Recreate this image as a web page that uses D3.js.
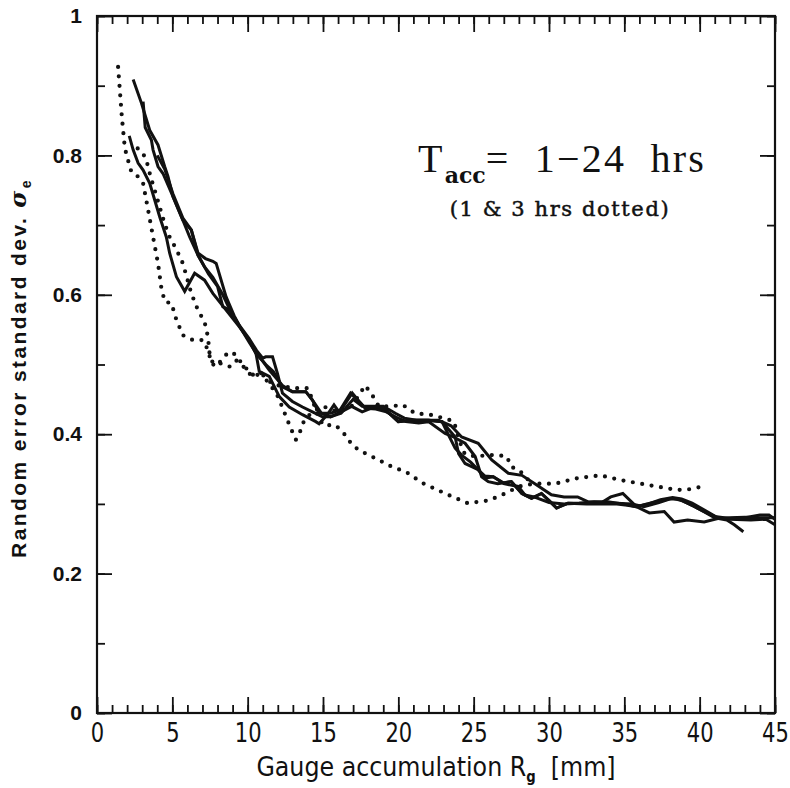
<!DOCTYPE html>
<html>
<head>
<meta charset="utf-8">
<script src="https://cdn.jsdelivr.net/npm/d3@7"></script>
<style>
  body { margin: 0; background: #fff; }
  svg text { fill: #111; }
</style>
</head>
<body>
<div id="viz"></div>
<script>
// chart size and plot box
var width = 790, height = 788;
var margin = {top: 16, right: 12, bottom: 75, left: 97};

// x ticks (mm) and y ticks (sigma)
var xMajor = [0, 5, 10, 15, 20, 25, 30, 35, 40, 45];
var yMajor = [0, 0.2, 0.4, 0.6, 0.8, 1];
var yLabels = ["0", "0.2", "0.4", "0.6", "0.8", "1"];

// solid curves (longer accumulation times)
var solidA = [[2.4,0.909],[2.95,0.875],[3.5,0.836],[4.05,0.815],[4.49,0.784],[4.71,0.77],[5.04,0.741],[5.7,0.707],[6.26,0.693],[6.7,0.66],[7.2,0.652],[7.69,0.648],[7.91,0.645],[8.57,0.597],[9.1,0.57],[9.6,0.55],[10.1,0.532],[10.6,0.515],[11.2,0.5],[11.7,0.49],[12.3,0.468],[12.97,0.461],[13.86,0.461],[14.3,0.449],[14.9,0.43],[15.5,0.425],[16.2,0.432],[16.9,0.44],[17.6,0.432],[18.5,0.44],[19.15,0.435],[20.0,0.418],[20.9,0.42],[22.0,0.42],[22.9,0.418],[23.77,0.396],[24.0,0.372],[24.43,0.358],[25.3,0.349],[25.75,0.337],[26.3,0.339],[27.0,0.329],[27.96,0.325],[28.4,0.313],[29.0,0.31],[30.0,0.302],[31.0,0.3],[32.0,0.301],[33.0,0.303],[33.9,0.303],[34.9,0.3],[35.8,0.296],[36.5,0.3],[37.5,0.305],[38.2,0.308],[38.8,0.305],[39.5,0.298],[40.2,0.29],[41.0,0.28],[41.8,0.277],[42.3,0.27],[42.9,0.26]];
var solidB = [[2.14,0.828],[2.4,0.808],[2.73,0.789],[3.06,0.779],[3.5,0.76],[3.83,0.736],[4.16,0.712],[4.6,0.683],[4.82,0.66],[5.27,0.626],[5.82,0.605],[6.48,0.631],[7.14,0.621],[7.69,0.602],[8.57,0.578],[9.45,0.554],[10.1,0.535],[10.55,0.516],[10.77,0.49],[11.43,0.483],[12.1,0.454],[12.76,0.439],[13.64,0.428],[14.52,0.418],[14.74,0.415],[15.29,0.428],[15.73,0.442],[16.06,0.432],[16.83,0.459],[17.4,0.447],[17.82,0.437],[18.5,0.436],[19.2,0.432],[19.8,0.425],[20.5,0.418],[21.35,0.416],[22.0,0.418],[23.1,0.401],[23.66,0.396],[24.43,0.387],[25.1,0.368],[25.53,0.339],[25.97,0.332],[26.6,0.329],[27.5,0.332],[28.2,0.315],[28.84,0.308],[29.5,0.315],[30.5,0.294],[31.26,0.301],[32.5,0.301],[33.5,0.302],[34.1,0.31],[34.9,0.315],[35.8,0.296],[36.6,0.3],[37.4,0.306],[38.2,0.309],[38.8,0.307],[39.5,0.301],[40.4,0.29],[41.2,0.28],[42.0,0.278],[43.4,0.277],[44.4,0.278],[45,0.27]];
var solidC = [[3.06,0.877],[3.2,0.84],[3.61,0.822],[3.72,0.808],[4.05,0.784],[4.38,0.774],[5.04,0.741],[5.7,0.707],[6.15,0.683],[6.7,0.657],[7.4,0.63],[8.0,0.612],[8.35,0.583],[8.79,0.578],[9.45,0.556],[10.1,0.537],[10.6,0.52],[11.0,0.509],[11.2,0.511],[11.65,0.511],[11.98,0.487],[12.31,0.459],[12.97,0.447],[13.64,0.439],[14.3,0.432],[14.96,0.425],[15.5,0.425],[16.2,0.43],[17.0,0.45],[17.6,0.44],[18.3,0.44],[19.0,0.44],[19.8,0.43],[20.4,0.423],[21.2,0.42],[22.1,0.42],[22.67,0.42],[23.5,0.412],[24.2,0.396],[25.3,0.387],[26.2,0.363],[27.3,0.344],[28.2,0.341],[29.06,0.329],[30.16,0.313],[31.0,0.31],[31.9,0.31],[32.6,0.303],[33.5,0.302],[34.5,0.301],[35.5,0.3],[36.3,0.296],[37.3,0.302],[38.0,0.307],[38.6,0.307],[39.3,0.3],[40.2,0.29],[41.0,0.282],[42.0,0.279],[43.0,0.28],[44.0,0.284],[44.6,0.284],[45,0.278]];
var solidD = [[4.0,0.8],[4.5,0.78],[5.04,0.745],[5.7,0.71],[6.26,0.693],[6.7,0.657],[7.14,0.64],[7.69,0.625],[8.35,0.6],[8.79,0.58],[9.45,0.555],[10.1,0.535],[10.55,0.516],[11.0,0.505],[11.43,0.492],[12.31,0.47],[12.97,0.461],[13.86,0.461],[14.3,0.449],[14.74,0.43],[15.5,0.43],[16.2,0.435],[16.94,0.459],[17.4,0.447],[17.82,0.437],[18.5,0.44],[19.15,0.435],[20.0,0.418],[20.9,0.42],[22.0,0.42],[22.9,0.418],[23.3,0.4],[23.77,0.38],[24.2,0.37],[24.8,0.36],[25.3,0.349],[25.75,0.34],[26.3,0.339],[27.0,0.33],[27.5,0.332],[28.2,0.315],[28.84,0.308],[29.5,0.315],[30.0,0.305],[30.5,0.294],[31.26,0.301],[32.5,0.3],[33.5,0.3],[34.5,0.3],[35.2,0.298],[35.8,0.296],[36.66,0.287],[37.65,0.289],[38.3,0.274],[39.2,0.277],[40.3,0.274],[41.2,0.279],[42.0,0.28],[43.0,0.281],[44.0,0.28],[45,0.28]];

// dotted curves (1 & 3 hrs)
var dottedA = [[1.4,0.927],[1.65,0.855],[1.85,0.81],[2.1,0.79],[2.3,0.775],[2.7,0.77],[3.06,0.76],[3.39,0.722],[3.72,0.683],[4.05,0.645],[4.27,0.61],[4.5,0.59],[4.94,0.588],[5.27,0.564],[5.7,0.542],[6.37,0.535],[7.03,0.535],[7.36,0.521],[7.6,0.502],[7.9,0.497],[8.57,0.514],[9.0,0.518],[9.34,0.509],[9.8,0.497],[10.3,0.485],[10.8,0.49],[11.4,0.473],[11.9,0.459],[12.2,0.444],[12.55,0.425],[12.87,0.408],[13.2,0.392],[13.53,0.406],[13.75,0.42],[14.3,0.432],[15.0,0.44],[16.0,0.432],[16.9,0.44],[17.8,0.47],[18.3,0.455],[18.7,0.44],[19.5,0.44],[20.3,0.442],[21.1,0.43],[22.1,0.428],[23.2,0.422],[23.7,0.418],[23.9,0.401],[24.2,0.382],[24.4,0.372],[25.1,0.368],[26.0,0.37],[26.6,0.37],[27.2,0.368],[27.5,0.353],[28.0,0.349],[28.6,0.335]];
var dottedB = [[2.7,0.81],[3.0,0.805],[3.28,0.793],[3.55,0.77],[3.83,0.75],[4.16,0.726],[4.49,0.702],[4.82,0.683],[5.27,0.665],[5.7,0.645],[6.26,0.602],[6.7,0.578],[7.14,0.561],[7.36,0.54],[7.47,0.516],[7.69,0.502],[8.13,0.502],[8.79,0.497],[9.23,0.506],[9.6,0.5],[10.1,0.487],[10.55,0.482],[10.8,0.49],[11.3,0.478],[11.8,0.47],[12.3,0.47],[12.9,0.466],[13.4,0.466],[14.0,0.466],[14.3,0.449],[14.6,0.43],[15.0,0.413],[15.84,0.413],[16.6,0.396],[16.9,0.385],[17.4,0.377],[18.04,0.37],[18.7,0.363],[19.6,0.353],[20.5,0.346],[21.6,0.33],[23.1,0.315],[24.6,0.301],[26.0,0.305],[27.1,0.315],[28.0,0.325],[29.0,0.329],[30.4,0.329],[31.9,0.337],[33.4,0.341],[34.8,0.334],[36.6,0.327],[38.5,0.32],[39.3,0.321],[40.2,0.325]];

var solids = [solidA, solidB, solidC, solidD];
var dotted = [dottedA, dottedB];

var svg = d3.select("#viz").append("svg")
  .attr("width", width)
  .attr("height", height);

var x = d3.scaleLinear().domain([0, 45]).range([margin.left, width - margin.right - 3]);
var y = d3.scaleLinear().domain([0, 1]).range([height - margin.bottom, margin.top]);

var x0 = x.range()[0], x1 = x.range()[1];
var y0 = y.range()[0], y1 = y.range()[1];

var xMinor = d3.range(0, 46, 1);
var yMinor = d3.range(0, 1.01, 0.1);

// inward ticks on all four sides: minor then major
function addAxis(axisFn, scale, vals, size, tx, ty, labels) {
  var a = axisFn(scale).tickValues(vals).tickSizeInner(-size).tickSizeOuter(0);
  if (labels) a.tickFormat(function(d, i) { return labels[i]; });
  else a.tickFormat("");
  var g = svg.append("g")
    .attr("transform", "translate(" + tx + "," + ty + ")")
    .call(a);
  g.select(".domain").remove();
  g.selectAll("line").attr("stroke", "#111").attr("stroke-width", 1.8);
  return g;
}

addAxis(d3.axisBottom, x, xMinor, 8, 0, y0);
addAxis(d3.axisTop, x, xMinor, 8, 0, y1);
addAxis(d3.axisLeft, y, yMinor, 8, x0, 0);
addAxis(d3.axisRight, y, yMinor, 8, x1, 0);

// condensed look for the x labels: narrow the glyphs horizontally
var gx = addAxis(d3.axisBottom, x, xMajor, 16, 0, y0, xMajor.map(String));
gx.selectAll("text")
  .attr("y", 10)
  .attr("transform", "scale(0.78,1)")
  .style("font-family", "'DejaVu Sans', sans-serif")
  .style("font-size", "27px");
addAxis(d3.axisTop, x, xMajor, 16, 0, y1);

var gy = addAxis(d3.axisLeft, y, yMajor, 15, x0, 0, yLabels);
gy.selectAll("text")
  .attr("x", -15)
  .style("font-family", "'Liberation Sans', Arial, sans-serif")
  .style("font-size", "21px")
  .style("font-weight", "bold");
addAxis(d3.axisRight, y, yMajor, 15, x1, 0);

// plot frame
svg.append("rect")
  .attr("x", x0).attr("y", y1)
  .attr("width", x1 - x0).attr("height", y0 - y1)
  .attr("fill", "none")
  .attr("stroke", "#111")
  .attr("stroke-width", 2.2);

var line = d3.line()
  .x(function(d) { return x(d[0]); })
  .y(function(d) { return y(d[1]); });

svg.append("g").selectAll("path")
  .data(dotted)
  .enter().append("path")
  .attr("d", line)
  .attr("fill", "none")
  .attr("stroke", "#111")
  .attr("stroke-width", 4.2)
  .attr("stroke-linecap", "round")
  .attr("stroke-dasharray", "0,9.5");

svg.append("g").selectAll("path")
  .data(solids)
  .enter().append("path")
  .attr("d", line)
  .attr("fill", "none")
  .attr("stroke", "#111")
  .attr("stroke-width", 3)
  .attr("stroke-linejoin", "miter");

// annotation
var t1 = svg.append("text")
  .attr("x", 418).attr("y", 172)
  .attr("xml:space", "preserve")
  .style("white-space", "pre")
  .style("font-family", "'Liberation Serif', 'Times New Roman', serif")
  .style("font-size", "40px")
  .style("letter-spacing", "2.2px");
t1.append("tspan").text("T");
t1.append("tspan").attr("dy", 11).style("font-size", "22px").style("font-weight", "bold")
  .style("letter-spacing", "0px")
  .style("font-family", "'DejaVu Serif', serif").text("acc");
t1.append("tspan").attr("dy", -11).text("=  1\u221224  hrs");

svg.append("text")
  .attr("x", 560).attr("y", 216)
  .attr("text-anchor", "middle")
  .style("font-family", "'DejaVu Serif', serif")
  .style("font-size", "21px")
  .style("letter-spacing", "1.6px")
  .style("stroke", "#111")
  .style("stroke-width", "0.5px")
  .text("(1 & 3 hrs dotted)");

// x axis title
var xtg = svg.append("g")
  .attr("transform", "translate(" + 436 + ",776) scale(0.88,1)");
var xt = xtg.append("text")
  .attr("text-anchor", "middle")
  .attr("xml:space", "preserve")
  .style("white-space", "pre")
  .style("font-family", "'DejaVu Sans', sans-serif")
  .style("font-size", "27px");
xt.append("tspan").text("Gauge accumulation R");
xt.append("tspan").attr("dy", 6).style("font-size", "15px").style("font-weight", "bold").text("g");
xt.append("tspan").attr("dy", -6).text("  [mm]");

// y axis title
var yt = svg.append("text")
  .attr("transform", "translate(26," + 368 + ") rotate(-90)")
  .attr("text-anchor", "middle")
  .style("font-family", "'Liberation Sans', Arial, sans-serif")
  .style("font-size", "21px")
  .style("font-weight", "bold")
  .style("letter-spacing", "2.4px");
yt.append("tspan").text("Random error standard dev. ");
yt.append("tspan").style("font-family", "'DejaVu Serif', serif").style("font-style", "italic").style("font-size", "23px").text("\u03c3");
yt.append("tspan").attr("dy", 5).style("font-size", "14px").text("e");
</script>
</body>
</html>
